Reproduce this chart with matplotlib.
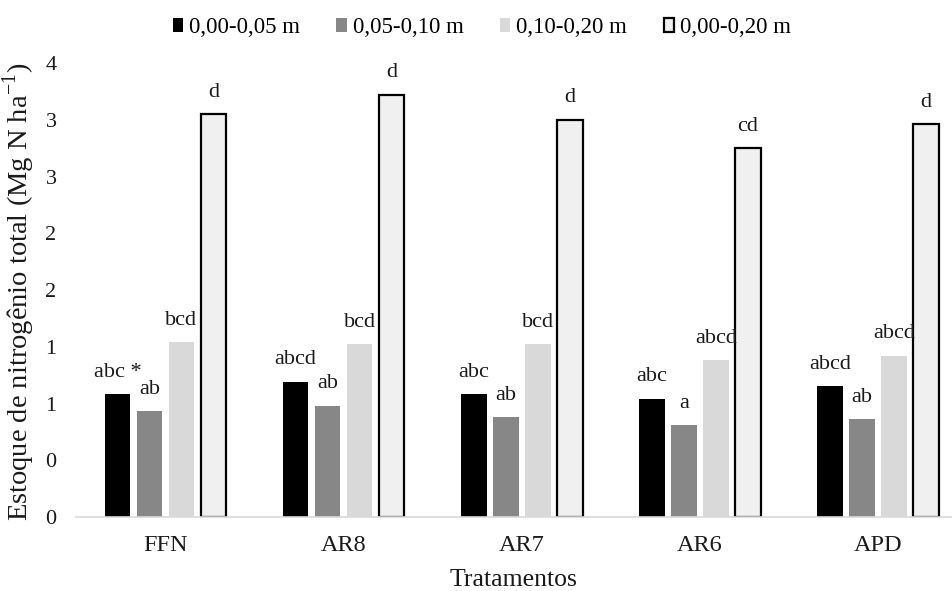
import matplotlib
matplotlib.use("Agg")
import matplotlib.pyplot as plt
import numpy as np

plt.rcParams["font.family"] = ["Liberation Serif", "DejaVu Serif"]
plt.rcParams["mathtext.fontset"] = "custom"
plt.rcParams["mathtext.rm"] = "Liberation Serif"

categories = ["FFN", "AR8", "AR7", "AR6", "APD"]
series = ["0,00-0,05 m", "0,05-0,10 m", "0,10-0,20 m", "0,00-0,20 m"]

d_0_5 = [1.08, 1.19, 1.08, 1.04, 1.15]
d_5_10 = [0.93, 0.98, 0.88, 0.81, 0.86]
d_10_20 = [1.54, 1.52, 1.52, 1.38, 1.42]
d_0_20 = [3.55, 3.72, 3.50, 3.25, 3.46]

letters_0_5 = ["abc *", "abcd", "abc", "abc", "abcd"]
letters_5_10 = ["ab", "ab", "ab", "a", "ab"]
letters_10_20 = ["bcd", "bcd", "bcd", "abcd", "abcd"]
letters_0_20 = ["d", "d", "d", "cd", "d"]

ytick_values = [0, 0.5, 1, 1.5, 2, 2.5, 3, 3.5, 4]
ytick_labels = ["0", "0", "1", "1", "2", "2", "3", "3", "4"]

FILL = ["#000000", "#878787", "#d9d9d9", "#eff0ef"]
EDGE = [None, None, None, "#000000"]
TXT = "#1a1a1a"

fig = plt.figure(figsize=(9.52, 5.91), dpi=100)
ax = fig.add_axes([0.0798, 0.1252, 0.9202, 0.7682])

x = np.arange(len(categories))
step = 0.1796
width = 0.143
values = [d_0_5, d_5_10, d_10_20, d_0_20]
letters = [letters_0_5, letters_5_10, letters_10_20, letters_0_20]

for i, (vals, labs) in enumerate(zip(values, letters)):
    pos = x + (i - 1.5) * step
    kw = dict(color=FILL[i], label=series[i])
    if EDGE[i]:
        kw.update(edgecolor=EDGE[i], linewidth=1.6)
    bars = ax.bar(pos, vals, width, **kw)
    for b, v, t in zip(bars, vals, labs):
        ax.annotate(t, (b.get_x() + b.get_width() / 2, v), xytext=(0, 9),
                    textcoords="offset points", ha="center", va="bottom",
                    fontsize=16, color=TXT)

ax.set_xlim(-0.502, 4.414)
ax.set_ylim(0, 4)
ax.set_yticks(ytick_values)
ax.set_yticklabels(ytick_labels)
ax.set_xticks(x)
ax.set_xticklabels(categories)
ax.tick_params(axis="both", length=0, colors=TXT)
ax.tick_params(axis="y", pad=14, labelsize=16)
ax.tick_params(axis="x", pad=13, labelsize=17.5)
for s in ["top", "right", "left"]:
    ax.spines[s].set_visible(False)
ax.spines["bottom"].set_color("#d9d9d9")
ax.spines["bottom"].set_linewidth(1.2)

ax.set_ylabel("Estoque de nitrogênio total (Mg N ha$^{\\mathrm{-1}}$)",
              fontsize=20.5, color=TXT)
ax.yaxis.set_label_coords(-0.045, 0.495)
ax.set_xlabel("Tratamentos", fontsize=18.5, color=TXT, labelpad=9)

ax.legend(loc="upper center", bbox_to_anchor=(0.506, 1.0),
          bbox_transform=fig.transFigure, ncol=4, frameon=False,
          fontsize=16.5, handlelength=0.45, handleheight=0.6,
          handletextpad=0.25, columnspacing=1.6, borderaxespad=0.35)

fig.savefig("out.png", dpi=100)
